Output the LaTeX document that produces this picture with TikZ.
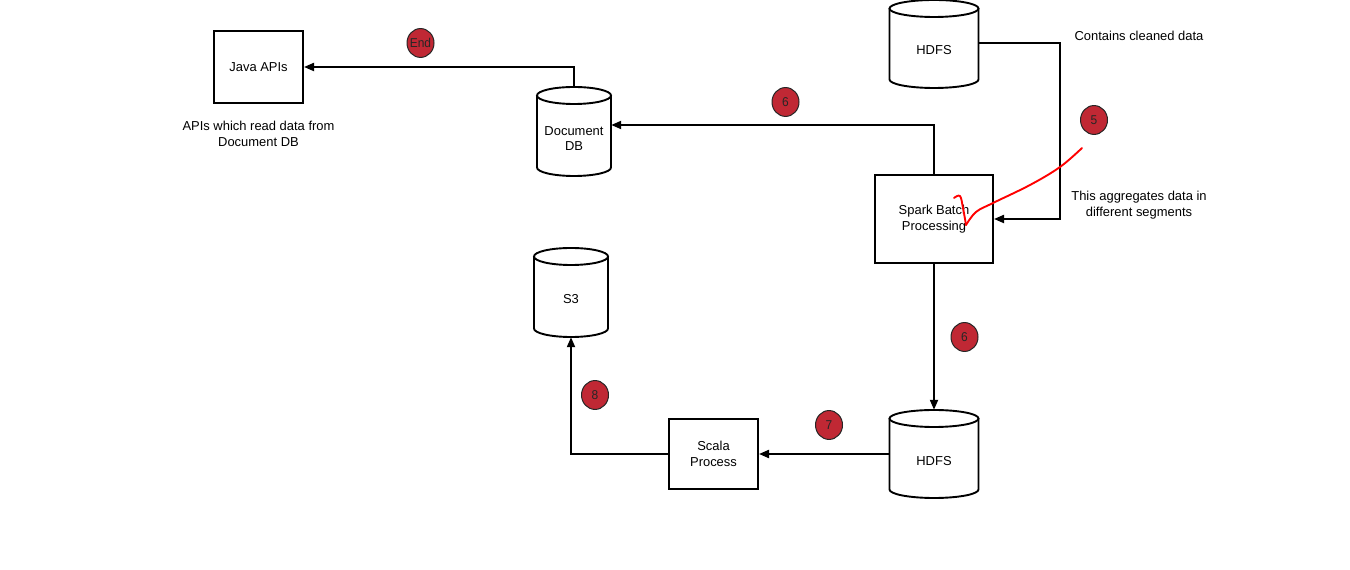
\documentclass[tikz,border=0pt]{standalone}
\usepackage{fontspec}
\setmainfont{Liberation Sans}
\usetikzlibrary{arrows.meta}
\definecolor{badgered}{RGB}{192,40,52}
\tikzset{
  box/.style={draw, line width=2bp, fill=white, align=center, font=\fontsize{13}{16}\selectfont},
  cylbox/.style={inner sep=0pt},
  cyltext/.style={align=center, font=\fontsize{13}{15}\selectfont, inner sep=0pt},
  lbl/.style={align=center, font=\fontsize{13}{16}\selectfont},
  badge/.style={draw=black!85, line width=1bp, fill=badgered, shape=circle, minimum size=27bp, inner sep=0pt, yscale=1.07, font=\fontsize{12}{12}\selectfont, text=black!85},
  conn/.style={line width=2bp, -{Triangle[length=10bp,width=8bp]}},
}
% cylinder: name, cx, cy, w, h, text, text yshift
\newcommand\mycyl[7]{%
  \node[cylbox, minimum width=#4bp, minimum height=#5bp] (#1) at (#2,#3) {};
  \draw[line width=1.9bp] (#2-#4/2,#3+#5/2-8.5) -- (#2-#4/2,#3-#5/2+8.5)
     arc[start angle=180,end angle=360,x radius=#4/2,y radius=8.5]
     -- (#2+#4/2,#3+#5/2-8.5);
  \draw[line width=1.9bp] (#2,#3+#5/2-8.5) ellipse[x radius=#4/2,y radius=8.5];
  \node[cyltext] (#1-t) at ([yshift=#7bp]#1.center) {#6};
}
\begin{document}
\begin{tikzpicture}[x=1bp,y=1bp]
\useasboundingbox[fill=white] (0,0) rectangle (1350,570);

% boxes
\node[box, minimum width=89bp, minimum height=72bp] (java) at (258.5,503) {Java APIs};
\node[box, minimum width=118bp, minimum height=88bp] (spark) at (934,351) {Spark Batch\\Processing};
\node[box, minimum width=89bp, minimum height=70bp] (scala) at (713.5,116) {Scala\\Process};

% cylinders
\mycyl{docdb}{574}{438.5}{74}{89}{Document\\DB}{-7}
\mycyl{hdfsA}{934}{526}{89}{88}{HDFS}{-6}
\mycyl{hdfsB}{934}{116}{89}{88}{HDFS}{-7}
\mycyl{sthree}{571}{277.5}{74}{89}{S3}{-7}

% labels
\node[lbl] (javalbl) at (258.5,436) {APIs which read data from\\Document DB};
\node[lbl] (cleanlbl) at (1139,534) {Contains cleaned data};
\node[lbl] (agglbl) at (1139,365) {This aggregates data in\\different segments};

% connectors
\draw[conn] (docdb.north) |- (java.east);
\draw[conn] (spark.north) |- ([yshift=6.5bp]docdb.east);
\draw[conn] ([yshift=1bp]hdfsA.east) -- ++(81,0) |- (spark.east);
\draw[conn] (spark.south) -- (hdfsB.north);
\draw[conn] (hdfsB.west) -- (scala.east);
\draw[conn] (scala.west) -| (sthree.south);

% badges
\node[badge] (bEnd) at (420.5,527) {End};
\node[badge] (b6a) at (785.5,468) {6};
\node[badge] (b5) at (1094,450) {5};
\node[badge] (b6b) at (964.5,233) {6};
\node[badge] (b7) at (829,145) {7};
\node[badge] (b8) at (595,175) {8};

% red hand-drawn mark
\draw[red, line width=1.9bp, line cap=round, line join=round]
  plot[smooth, tension=0.6] coordinates {(954,372) (960,374) (963,362) (966,345)};
\draw[red, line width=1.9bp, line cap=round]
  plot[smooth, tension=0.6] coordinates {(966,345) (976,358) (993,367) (1030,385) (1060,403) (1082,422)};
\end{tikzpicture}
\end{document}
